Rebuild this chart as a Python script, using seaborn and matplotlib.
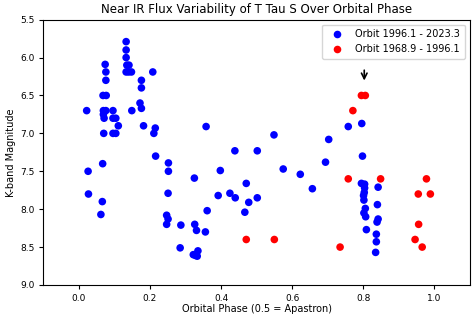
import matplotlib
matplotlib.use("Agg")
import matplotlib.pyplot as plt
import seaborn as sns
import pandas as pd

# Orbit 1996.1 - 2023.3 (blue)
phase_new = [0.022, 0.026, 0.027, 0.062, 0.066, 0.067, 0.074, 0.076, 0.076,
             0.068, 0.077, 0.069, 0.076, 0.069, 0.071, 0.070,
             0.096, 0.096, 0.104, 0.096, 0.104, 0.111,
             0.133, 0.133, 0.133, 0.135, 0.141, 0.133, 0.140, 0.148, 0.149,
             0.172, 0.176, 0.176, 0.176, 0.182, 0.208, 0.215, 0.211, 0.216,
             0.252, 0.252, 0.251, 0.247, 0.251, 0.247, 0.287, 0.285,
             0.325, 0.326, 0.331, 0.322, 0.328, 0.335, 0.333,
             0.356, 0.361, 0.358, 0.398, 0.392, 0.425, 0.440, 0.439,
             0.467, 0.471, 0.478, 0.502, 0.502, 0.549, 0.575, 0.623,
             0.657, 0.694, 0.703, 0.758, 0.796, 0.798,
             0.795, 0.804, 0.804, 0.803, 0.801, 0.802, 0.806, 0.802, 0.807, 0.809,
             0.842, 0.840, 0.842, 0.839, 0.837, 0.837, 0.835]
mag_new = [6.70, 7.50, 7.80, 8.07, 7.90, 7.40, 6.09, 6.19, 6.30,
           6.50, 6.50, 6.70, 6.70, 6.75, 6.80, 7.00,
           6.70, 6.80, 6.80, 7.00, 7.00, 6.90,
           5.79, 5.90, 6.00, 6.10, 6.10, 6.19, 6.19, 6.19, 6.70,
           6.60, 6.30, 6.40, 6.67, 6.90, 6.19, 6.93, 7.00, 7.30,
           7.39, 7.50, 7.79, 8.08, 8.13, 8.20, 8.21, 8.51,
           7.59, 8.20, 8.28, 8.60, 8.61, 8.55, 8.62,
           8.30, 8.02, 6.91, 7.49, 7.82, 7.79, 7.85, 7.23,
           8.04, 7.66, 7.91, 7.23, 7.85, 7.02, 7.47, 7.54,
           7.73, 7.38, 7.08, 6.91, 6.87, 7.30,
           7.66, 7.67, 7.72, 7.78, 7.82, 7.88, 7.99, 8.05, 8.10, 8.27,
           7.71, 7.94, 8.13, 8.17, 8.33, 8.43, 8.57]

# Orbit 1968.9 - 1996.1 (red)
phase_old = [0.471, 0.550, 0.735, 0.758, 0.771, 0.795, 0.806, 0.849,
             0.946, 0.955, 0.956, 0.966, 0.978, 0.989]
mag_old = [8.40, 8.40, 8.50, 7.60, 6.70, 6.50, 6.50, 7.60,
           8.40, 7.80, 8.20, 8.50, 7.60, 7.80]

label_new = "Orbit 1996.1 - 2023.3"
label_old = "Orbit 1968.9 - 1996.1"

df = pd.DataFrame({
    "phase": phase_new + phase_old,
    "mag": mag_new + mag_old,
    "orbit": [label_new] * len(phase_new) + [label_old] * len(phase_old),
})

fig = plt.figure(figsize=(4.76, 3.17), dpi=100)
ax = fig.add_axes([0.091, 0.101, 0.896, 0.837])
sns.scatterplot(data=df, x="phase", y="mag", hue="orbit",
                palette={label_new: "blue", label_old: "red"},
                s=30, linewidth=0, edgecolor="none", ax=ax)

ax.set_xlim(-0.1, 1.1)
ax.set_ylim(9.0, 5.5)
ax.set_xticks([0.0, 0.2, 0.4, 0.6, 0.8, 1.0])
ax.set_yticks([5.5, 6.0, 6.5, 7.0, 7.5, 8.0, 8.5, 9.0])
ax.tick_params(labelsize=6.5, length=3)
ax.set_xlabel("Orbital Phase (0.5 = Apastron)", fontsize=7, labelpad=1)
ax.set_ylabel("K-band Magnitude", fontsize=7, labelpad=3)
ax.set_title("Near IR Flux Variability of T Tau S Over Orbital Phase", fontsize=8.5, pad=5)

ax.annotate("", xy=(0.803, 6.34), xytext=(0.803, 6.13),
            arrowprops=dict(arrowstyle="->", color="black", lw=1.2))

leg = ax.legend(loc="upper right", fontsize=7, title=None, markerscale=1.0,
                handletextpad=0.9, borderpad=0.5, handlelength=2.0)

fig.savefig("out.png", dpi=100)
